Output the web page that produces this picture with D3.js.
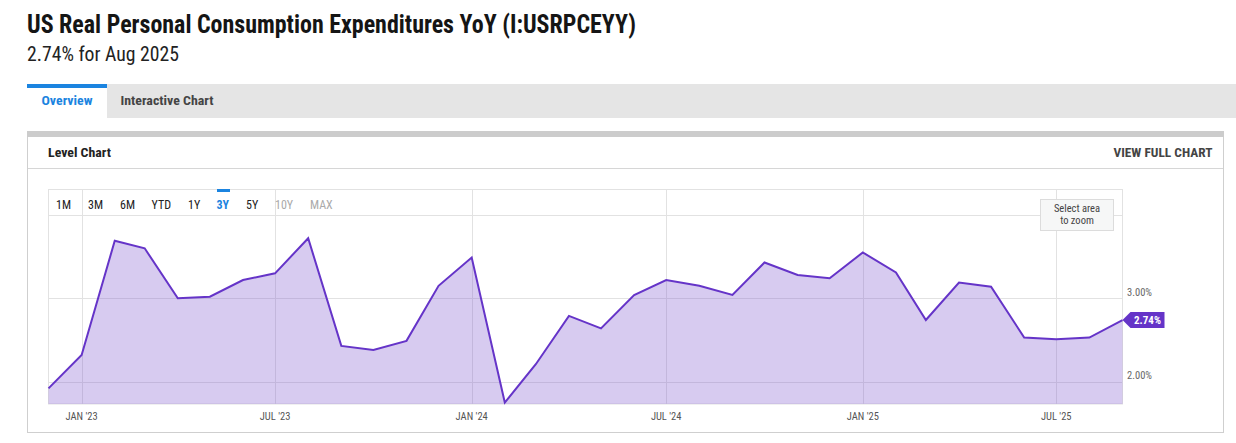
<!DOCTYPE html>
<html>
<head>
<meta charset="utf-8">
<script src="https://cdn.jsdelivr.net/npm/d3@7"></script>
<style>
  html, body { margin: 0; padding: 0; background: #fff; }
  svg { display: block; font-family: "Roboto Condensed", Roboto, "Liberation Sans", sans-serif; }
</style>
</head>
<body>
<svg id="chart" width="1236" height="443"></svg>
<script>
// ---------- data ----------
const months = [
  "2022-11","2022-12",
  "2023-01","2023-02","2023-03","2023-04","2023-05","2023-06","2023-07","2023-08","2023-09","2023-10","2023-11","2023-12",
  "2024-01","2024-02","2024-03","2024-04","2024-05","2024-06","2024-07","2024-08","2024-09","2024-10","2024-11","2024-12",
  "2025-01","2025-02","2025-03","2025-04","2025-05","2025-06","2025-07","2025-08"
];
const values = [
  1.92, 2.32,
  3.69, 3.60, 3.00, 3.02, 3.22, 3.30, 3.72, 2.43, 2.38, 2.49, 3.15, 3.49,
  1.75, 2.21, 2.79, 2.64, 3.04, 3.22, 3.15, 3.04, 3.43, 3.28, 3.24, 3.55,
  3.31, 2.74, 3.19, 3.14, 2.53, 2.51, 2.53, 2.74
];
const yGridValues = [2, 3, 4];
const yLabelValues = [2, 3];
const rangeButtons = ["1M","3M","6M","YTD","1Y","3Y","5Y","10Y","MAX"];
const activeRange = "3Y";
const disabledRanges = ["10Y","MAX"];
const titleText = "US Real Personal Consumption Expenditures YoY (I:USRPCEYY)";
const subtitleText = "2.74% for Aug 2025";

// ---------- setup ----------
const svg = d3.select("#chart");
const parseMonth = d3.timeParse("%Y-%m");
// monthly values are plotted at period end (start of following month)
const data = months.map((m, i) => ({ date: d3.timeMonth.offset(parseMonth(m), 1), value: values[i] }));

const plot = { left: 48.5, right: 1122.5, top: 190, bottom: 404 };

const x = d3.scaleTime()
  .domain(d3.extent(data, d => d.date))
  .range([plot.left, plot.right]);
const y = d3.scaleLinear()
  .domain([1.733, 4.299])
  .range([plot.bottom, plot.top]);

// ---------- page header ----------
svg.append("text").attr("x", 27).attr("y", 33)
  .attr("font-size", 25).attr("font-weight", 700).attr("fill", "#151515")
  .attr("textLength", 609).attr("lengthAdjust", "spacingAndGlyphs")
  .text(titleText);
svg.append("text").attr("x", 27).attr("y", 61)
  .attr("font-size", 20).attr("fill", "#222")
  .attr("textLength", 152).attr("lengthAdjust", "spacingAndGlyphs")
  .text(subtitleText);

// tab bar
svg.append("rect").attr("x", 27).attr("y", 84).attr("width", 1236 - 27).attr("height", 34).attr("fill", "#e5e5e5");
svg.append("rect").attr("x", 27).attr("y", 84).attr("width", 80).attr("height", 34).attr("fill", "#fff");
svg.append("rect").attr("x", 27).attr("y", 84).attr("width", 80).attr("height", 4).attr("fill", "#1b84e0");
svg.append("text").attr("x", 41.5).attr("y", 104.5).attr("font-size", 13).attr("font-weight", 700)
  .attr("fill", "#1b84e0").attr("textLength", 51).attr("lengthAdjust", "spacingAndGlyphs").text("Overview");
svg.append("text").attr("x", 120.5).attr("y", 104.5).attr("font-size", 13).attr("font-weight", 700)
  .attr("fill", "#444").attr("textLength", 93).attr("lengthAdjust", "spacingAndGlyphs").text("Interactive Chart");

// card
svg.append("rect").attr("x", 27.5).attr("y", 131.5).attr("width", 1196).attr("height", 301)
  .attr("fill", "#fff").attr("stroke", "#cfcfcf");
svg.append("rect").attr("x", 27).attr("y", 131).attr("width", 1197).attr("height", 6).attr("fill", "#cccccc");
svg.append("line").attr("x1", 28).attr("x2", 1223).attr("y1", 168.5).attr("y2", 168.5).attr("stroke", "#d6d6d6");
svg.append("text").attr("x", 48).attr("y", 157).attr("font-size", 13.5).attr("font-weight", 700)
  .attr("fill", "#222").attr("textLength", 63).attr("lengthAdjust", "spacingAndGlyphs").text("Level Chart");
svg.append("text").attr("x", 1113.5).attr("y", 157).attr("font-size", 12).attr("font-weight", 700)
  .attr("fill", "#444").attr("textLength", 99).attr("lengthAdjust", "spacingAndGlyphs").text("VIEW FULL CHART");

// ---------- plot grid ----------
const grid = svg.append("g");
grid.selectAll("line.h").data(yGridValues).join("line")
  .attr("x1", plot.left).attr("x2", plot.right)
  .attr("y1", d => Math.round(y(d)) + 0.5).attr("y2", d => Math.round(y(d)) + 0.5)
  .attr("stroke", "#e2e2e2");
const xTicks = x.ticks(d3.timeMonth.every(6)).filter(d => d.getMonth() % 6 === 0);
grid.selectAll("line.v").data(xTicks).join("line")
  .attr("x1", d => Math.round(x(d)) + 0.5).attr("x2", d => Math.round(x(d)) + 0.5)
  .attr("y1", plot.top).attr("y2", plot.bottom)
  .attr("stroke", "#e2e2e2");
// frame
svg.append("rect").attr("x", plot.left).attr("y", plot.top - 0.5)
  .attr("width", plot.right - plot.left).attr("height", plot.bottom - plot.top + 0.5)
  .attr("fill", "none").attr("stroke", "#e2e2e2");

// ---------- area + line ----------
const area = d3.area().x(d => x(d.date)).y0(plot.bottom).y1(d => y(d.value));
const line = d3.line().x(d => x(d.date)).y(d => y(d.value));
svg.append("path").datum(data).attr("d", area)
  .attr("fill", "rgb(122,82,206)").attr("fill-opacity", 0.3);
svg.append("path").datum(data).attr("d", line)
  .attr("fill", "none").attr("stroke", "#6534c8").attr("stroke-width", 2)
  .attr("stroke-linejoin", "miter");

// ---------- axes labels ----------
const fmt = d3.timeFormat("%b '%y");
svg.append("g").selectAll("text").data(xTicks).join("text")
  .attr("x", d => x(d)).attr("y", 419.5)
  .attr("text-anchor", "middle").attr("font-size", 10.5).attr("fill", "#555")
  .text(d => fmt(d).toUpperCase());

svg.append("g").selectAll("text").data(yLabelValues).join("text")
  .attr("x", 1127).attr("y", d => y(d) - 2.5)
  .attr("font-size", 10.5).attr("fill", "#666")
  .text(d => d3.format(".2f")(d) + "%");

// ---------- last value tag ----------
const last = data[data.length - 1];
const lx = x(last.date), ly = y(last.value);
svg.append("path")
  .attr("d", `M${lx},${ly} L${lx + 8},${ly - 8} L${lx + 42},${ly - 8} L${lx + 42},${ly + 8} L${lx + 8},${ly + 8} Z`)
  .attr("fill", "#6534c8");
svg.append("text").attr("x", lx + 25).attr("y", ly + 4)
  .attr("text-anchor", "middle").attr("font-size", 11).attr("font-weight", 700).attr("fill", "#fff")
  .text(d3.format(".2f")(last.value) + "%");

// ---------- range buttons ----------
const btnX = [56, 88, 120, 151.5, 188, 216.5, 246, 275, 310];
const btns = svg.append("g");
rangeButtons.forEach((b, i) => {
  const isActive = b === activeRange;
  const isDisabled = disabledRanges.includes(b);
  btns.append("text").attr("x", btnX[i]).attr("y", 208.5)
    .attr("font-size", 12).attr("font-weight", isActive ? 700 : 400)
    .attr("fill", isActive ? "#1b84e0" : (isDisabled ? "#aaa" : "#222"))
    .text(b);
  if (isActive) {
    btns.append("rect").attr("x", btnX[i] + 0.5).attr("y", 189).attr("width", 13).attr("height", 3).attr("fill", "#1b84e0");
  }
});

// ---------- zoom hint ----------
svg.append("rect").attr("x", 1040.5).attr("y", 199.5).attr("width", 73).attr("height", 31)
  .attr("fill", "#f6f7f7").attr("stroke", "#dcdcdc");
svg.append("text").attr("x", 1077).attr("y", 211.5).attr("text-anchor", "middle")
  .attr("font-size", 10.5).attr("fill", "#444").text("Select area");
svg.append("text").attr("x", 1077).attr("y", 223.5).attr("text-anchor", "middle")
  .attr("font-size", 10.5).attr("fill", "#444").text("to zoom");
</script>
</body>
</html>
